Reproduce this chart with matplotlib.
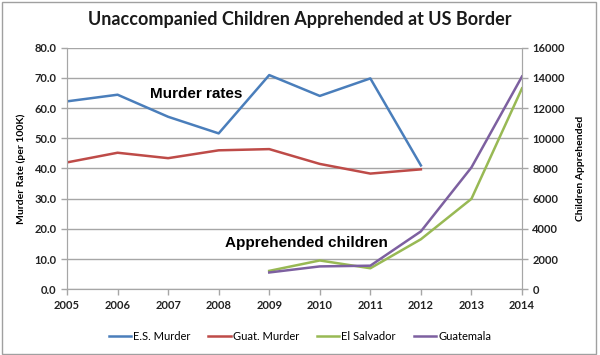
import matplotlib.pyplot as plt
import matplotlib.patches as patches

years = [2005, 2006, 2007, 2008, 2009, 2010, 2011, 2012, 2013, 2014]
murder_years = [2005, 2006, 2007, 2008, 2009, 2010, 2011, 2012]
es_murder = [62.2, 64.4, 57.1, 51.6, 70.9, 64.0, 69.8, 41.0]
guat_murder = [42.0, 45.2, 43.4, 46.0, 46.4, 41.5, 38.3, 39.7]
kid_years = [2009, 2010, 2011, 2012, 2013, 2014]
el_salvador = [1221, 1910, 1394, 3314, 5990, 13301]
guatemala = [1115, 1517, 1565, 3835, 8068, 14086]

c_es = '#4a7ebb'
c_gu = '#be4b48'
c_sv = '#98b954'
c_gt = '#7d60a0'
grid_c = '#a6a6a6'
font = ['Lato', 'DejaVu Sans']

plt.rcParams['font.family'] = font

fig = plt.figure(figsize=(6, 3.55), dpi=100)
fig.patches.append(patches.Rectangle((0.004, 0.004), 0.99, 0.99, transform=fig.transFigure,
                                     fill=False, edgecolor='#a0a0a0', linewidth=1))
ax = fig.add_axes([0.1117, 0.185, 0.7583, 0.681])
ax2 = ax.twinx()

ax.plot(murder_years, es_murder, color=c_es, lw=1.8, label='E.S. Murder')
ax.plot(murder_years, guat_murder, color=c_gu, lw=1.8, label='Guat. Murder')
ax2.plot(kid_years, el_salvador, color=c_sv, lw=1.8, label='El Salvador')
ax2.plot(kid_years, guatemala, color=c_gt, lw=1.8, label='Guatemala')

ax.set_xlim(2005, 2014)
ax.set_ylim(0, 80)
ax2.set_ylim(0, 16000)
ax.set_xticks(years)
ax.set_yticks(range(0, 81, 10))
ax.set_yticklabels([f'{v:.1f}' for v in range(0, 81, 10)])
ax2.set_yticks(range(0, 16001, 2000))
ax.grid(axis='y', color=grid_c, lw=1)
ax.set_axisbelow(True)

for a in (ax, ax2):
    for s in a.spines.values():
        s.set_color(grid_c)
    a.spines['top'].set_visible(False)
    a.tick_params(colors=grid_c, labelcolor='#222222', labelsize=8, length=4, width=1)
for lab in ax.get_xticklabels() + ax.get_yticklabels() + ax2.get_yticklabels():
    lab.set_fontweight('bold')

ax.set_ylabel('Murder Rate (per 100K)', fontsize=7.5, fontweight='bold', labelpad=6)
ax2.set_ylabel('Children Apprehended', fontsize=7.5, fontweight='bold', labelpad=8)

fig.text(0.5, 0.945, 'Unaccompanied Children Apprehended at US Border', ha='center', va='center',
         fontsize=13, fontweight='bold', color='#1a1a1a')
ax.text(2006.64, 64.6, 'Murder rates', fontsize=11, fontweight='bold',
        family=['Liberation Sans', 'DejaVu Sans'], va='center')
ax.text(2008.12, 15.3, 'Apprehended children', fontsize=11, fontweight='bold',
        family=['Liberation Sans', 'DejaVu Sans'], va='center')

h1, l1 = ax.get_legend_handles_labels()
h2, l2 = ax2.get_legend_handles_labels()
fig.legend(h1 + h2, l1 + l2, loc='center', bbox_to_anchor=(0.5, 0.052), ncol=4, frameon=False,
           fontsize=8, handlelength=2.0, handletextpad=0.2, columnspacing=1.6)

fig.savefig('out.png', dpi=100)
